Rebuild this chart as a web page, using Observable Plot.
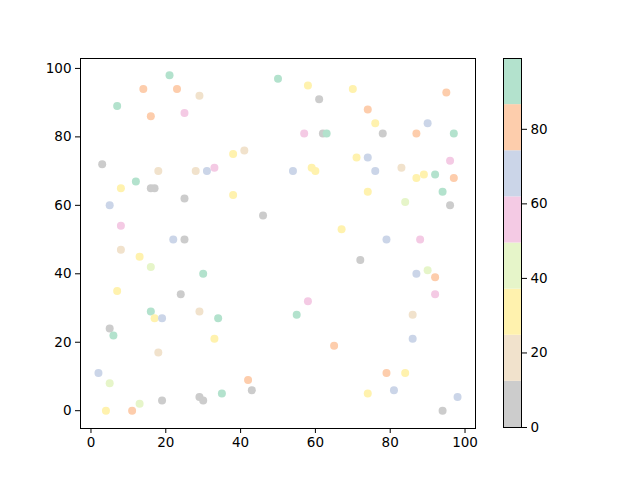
<!DOCTYPE html>
<html><head><meta charset="utf-8">
<script src="https://cdn.jsdelivr.net/npm/d3@7"></script>
<script src="https://cdn.jsdelivr.net/npm/@observablehq/plot@0.6"></script>
<style>
body{margin:0;background:#fff;}
#wrap{position:relative;width:640px;height:480px;}
#wrap svg{position:absolute;left:0;top:0;}
</style>
</head><body><div id="wrap"></div>
<script>
const G=6,B=18,Y=31,L=43,P=56,U=68,O=80,N=93;
const xs=[21,14,23,29,7,16,25,3,18,28,31,33,12,50,58,61,57,62,63,38,41,54,59,60,70,95,74,76,78,87,90,97,71,74,76,83,87,89,92,96,97,8,16,17,25,5,8,22,25,8,13,16,30,7,24,38,46,67,58,74,84,94,96,79,88,72,87,90,92,92,16,17,19,29,5,6,33,18,2,5,13,19,29,30,4,11,34,55,65,42,43,35,86,86,79,84,74,81,98,94];
const ys=[98,94,94,92,89,86,87,72,70,70,70,71,67,97,95,91,81,81,81,75,76,70,71,70,94,93,88,84,81,81,84,81,74,74,70,71,68,69,69,73,68,65,65,65,62,60,54,50,50,47,45,42,40,35,34,63,57,53,32,64,61,64,60,50,50,44,40,41,39,34,29,27,27,29,24,22,21,17,11,8,2,3,4,3,0,0,27,28,19,9,6,5,28,21,11,11,5,6,4,0];
const cs=[N,O,O,B,N,O,P,G,B,B,U,P,N,N,Y,G,P,G,N,Y,B,U,Y,Y,Y,O,O,Y,G,O,U,N,Y,U,U,B,Y,Y,N,P,O,Y,G,G,G,U,P,U,G,B,Y,L,N,Y,G,Y,G,Y,P,Y,L,N,G,U,P,G,U,L,O,P,N,Y,U,B,G,N,Y,B,U,L,L,G,G,G,Y,O,N,N,O,O,G,N,B,U,O,Y,Y,U,U,G];
const cDomain=[0,99];
const palette=["#cccccc","#f1e2cc","#fff2ae","#e6f5c9","#f4cae4","#cbd5e8","#fdcdac","#b3e2cd"];
const xTicks=[0,20,40,60,80,100], yTicks=[0,20,40,60,80,100], cTicks=[0,20,40,60,80];

const step=(cDomain[1]-cDomain[0])/palette.length;
const thresholds=d3.range(1,palette.length).map(i=>cDomain[0]+i*step);
const colorOpt={type:"threshold",domain:thresholds,range:palette};
const pts=xs.map((x,i)=>({x,y:ys[i],c:cs[i]}));
const bins=palette.map((_,i)=>({y1:cDomain[0]+i*step,y2:cDomain[0]+(i+1)*step,c:cDomain[0]+(i+0.5)*step}));
const font={fontFamily:"DejaVu Sans",fontSize:"13.5px",color:"#000",background:"transparent"};

const main=Plot.plot({
  width:640,height:480,marginLeft:80,marginRight:165,marginTop:58,marginBottom:52,
  style:font,
  x:{domain:[-2.8,102.8]},
  y:{domain:[-5.2,102.9]},
  color:colorOpt,
  marks:[
    Plot.dot(pts,{x:"x",y:"y",fill:"c",r:4,stroke:null}),
    Plot.frame({stroke:"#000",strokeWidth:1}),
    Plot.axisX({ticks:xTicks,tickSize:5,tickPadding:4,label:null,stroke:"#000"}),
    Plot.axisY({ticks:yTicks,tickSize:5,tickPadding:4,label:null,stroke:"#000"})
  ]
});
const bar=Plot.plot({
  width:640,height:480,marginLeft:503,marginRight:119,marginTop:58,marginBottom:53,
  style:font,
  y:{domain:cDomain},
  color:colorOpt,
  marks:[
    Plot.rectY(bins,{y1:"y1",y2:"y2",fill:"c"}),
    Plot.frame({stroke:"#000",strokeWidth:1}),
    Plot.axisY({anchor:"right",ticks:cTicks,tickSize:5,tickPadding:4,label:null,stroke:"#000"})
  ]
});
document.getElementById("wrap").append(main,bar);
</script></body></html>
